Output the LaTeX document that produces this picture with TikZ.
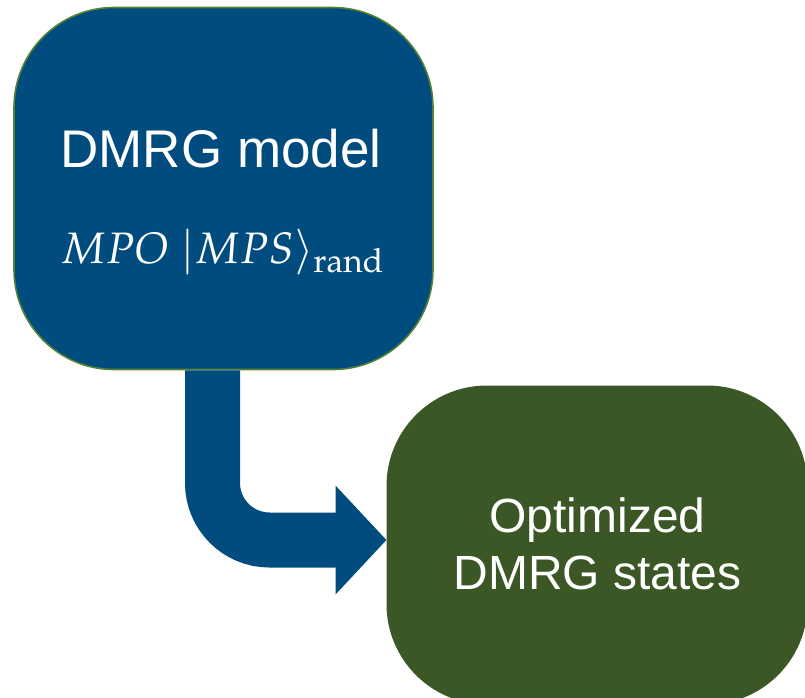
\documentclass[tikz,border=0pt]{standalone}
\usepackage{mathpazo}
\usepackage{fontspec}
\newfontfamily\arialfont{Liberation Sans}
\usetikzlibrary{arrows.meta}
\definecolor{boxblue}{RGB}{0,76,127}
\definecolor{boxgreen}{RGB}{58,87,37}
\definecolor{edgegreen}{RGB}{84,130,53}
\tikzset{
  modelbox/.style={draw=edgegreen, line width=1.6pt, fill=boxblue, rounded corners=100pt, minimum width=419pt, minimum height=362pt, inner sep=0pt},
  resultbox/.style={draw=boxgreen, line width=1pt, fill=boxgreen, rounded corners=100pt, minimum width=420pt, minimum height=318pt, inner sep=0pt},
  bigsans/.style={text=white, font=\arialfont\fontsize{53}{62}\selectfont, inner sep=0pt, anchor=base},
  midsans/.style={text=white, font=\arialfont\fontsize{48}{56}\selectfont, inner sep=0pt, anchor=base},
  mathtext/.style={text=white, font=\fontsize{44}{52}\selectfont, inner sep=0pt, anchor=base},
  bentarrow/.style={draw=boxblue, line width=55pt, rounded corners=57pt, -{Triangle[width=106pt,length=51pt]}}
}
\begin{document}
\begin{tikzpicture}[x=1pt,y=-1pt]
\useasboundingbox (0,0) rectangle (805,697);
\clip (0,0) rectangle (805,697);
\node[modelbox] (model) at (223.5,188.5) {};
\node[resultbox] (result) at (597,545) {};
\draw[bentarrow] ([xshift=-11pt]model.south) |- ([yshift=5pt]result.west);
\node[bigsans] (title) at (221,167) {DMRG model};
\node[mathtext] (formula) at (222.5,263) {$MPO\;|MPS\rangle_{\mathrm{rand}}$};
\node[midsans] (opt1) at (597.5,532) {Optimized};
\node[midsans] (opt2) at (597.5,589) {DMRG states};
\end{tikzpicture}
\end{document}
